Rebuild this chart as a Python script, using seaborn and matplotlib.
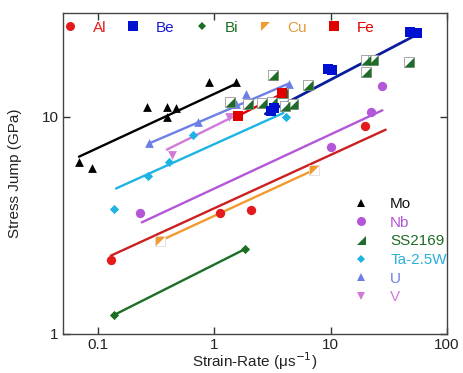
import matplotlib
matplotlib.use("Agg")
import matplotlib.pyplot as plt
import seaborn as sns
import pandas as pd
from matplotlib.lines import Line2D
from matplotlib.ticker import FixedLocator, FixedFormatter, NullLocator

# ---- data ----
al_x = [0.129, 1.13, 2.07, 19.8]
al_y = [2.19, 3.59, 3.72, 9.09]
al_fit_x = [0.129, 29.8]
al_fit_y = [2.29, 8.71]

be_x = [3.10, 3.29, 9.6, 10.2, 48, 55]
be_y = [10.66, 11.0, 16.6, 16.4, 24.6, 24.4]
be_fit_x = [2.75, 59.7]
be_fit_y = [10.3, 24.4]

bi_x = [0.137, 1.85]
bi_y = [1.22, 2.46]
bi_fit_x = [0.137, 1.85]
bi_fit_y = [1.22, 2.46]

cu_x = [0.342, 7.18]
cu_y = [2.68, 5.68]
cu_fit_x = [0.342, 7.18]
cu_fit_y = [2.68, 5.68]

fe_x = [1.61, 3.86]
fe_y = [10.1, 12.8]
fe_fit_x = [1.61, 4.0]
fe_fit_y = [10.1, 12.9]

mo_x = [0.0686, 0.0893, 0.266, 0.394, 0.394, 0.468, 0.893, 1.55]
mo_y = [6.16, 5.80, 11.04, 11.04, 10.0, 10.97, 14.4, 14.4]
mo_fit_x = [0.0686, 1.55]
mo_fit_y = [6.54, 14.2]

nb_x = [0.230, 10.1, 22.1, 27.9]
nb_y = [3.60, 7.22, 10.5, 13.9]
nb_fit_x = [0.238, 27.9]
nb_fit_y = [3.26, 10.7]

ss_x = [3.23, 1.37, 1.96, 2.59, 3.16, 4.09, 4.80, 3.93, 6.34, 20.0, 23.0, 20.0, 47.0]
ss_y = [15.5, 11.7, 11.4, 11.5, 11.7, 11.2, 11.4, 12.8, 14.0, 18.3, 18.3, 16.0, 17.9]

ta_x = [0.137, 0.268, 0.407, 0.655, 4.18]
ta_y = [3.75, 5.35, 6.20, 8.26, 9.93]
ta_fit_x = [0.143, 3.93]
ta_fit_y = [4.67, 10.4]

u_x = [0.275, 0.732, 1.55, 1.88, 4.37]
u_y = [7.53, 9.41, 11.4, 12.7, 14.2]
u_fit_x = [0.275, 4.37]
u_fit_y = [7.53, 14.2]

v_x = [0.432, 1.33]
v_y = [6.68, 9.93]
v_fit_x = [0.391, 1.42]
v_fit_y = [7.05, 9.93]

x_ticks = [0.1, 1, 10, 100]
x_tick_labels = ["0.1", "1", "10", "100"]
y_ticks = [1, 10]
y_tick_labels = ["1", "10"]

# ---- styling ----
sns.set_theme(style="white")
plt.rcParams["font.family"] = ["Liberation Sans", "DejaVu Sans"]

C = {
    "Al": "#e41a1c", "Al_line": "#cc1f1f",
    "Be": "#0010d0", "Be_line": "#0a1d9c",
    "Bi": "#1b6e23",
    "Cu": "#f39a2c",
    "Fe": "#e00000",
    "Mo": "#000000",
    "Nb": "#b456d8",
    "SS": "#1f6b28",
    "Ta": "#1db4e3",
    "U": "#6c7fe6",
    "V": "#d27ad8",
}

TRI_LR = [(1, -1), (1, 1), (-1, -1)]   # lower-right half of a square
TRI_UL = [(-1, 1), (1, 1), (-1, -1)]   # upper-left half of a square

fig = plt.figure(figsize=(4.63, 3.73), dpi=100)
ax = fig.add_axes([0.136, 0.105, 0.829, 0.86])


def fit(xs, ys, color, lw=1.7):
    sns.lineplot(x=xs, y=ys, ax=ax, color=color, lw=lw, legend=False,
                 sort=False, estimator=None)


def pts(xs, ys, color, marker, s, ec=None, lw=0.0):
    sns.scatterplot(x=xs, y=ys, ax=ax, color=color, marker=marker, s=s,
                    edgecolor=ec if ec else color, linewidth=lw, legend=False,
                    zorder=3)


# fit lines
fit(mo_fit_x, mo_fit_y, C["Mo"])
fit(u_fit_x, u_fit_y, C["U"])
fit(v_fit_x, v_fit_y, C["V"])
fit(ta_fit_x, ta_fit_y, C["Ta"])
fit(nb_fit_x, nb_fit_y, C["Nb"])
fit(al_fit_x, al_fit_y, C["Al_line"])
fit(cu_fit_x, cu_fit_y, C["Cu"])
fit(bi_fit_x, bi_fit_y, C["Bi"])
fit(fe_fit_x, fe_fit_y, C["Fe"])
fit(be_fit_x, be_fit_y, C["Be_line"], lw=2.0)

# points
pts(mo_x, mo_y, C["Mo"], "^", 40)
pts(u_x, u_y, C["U"], "^", 40)
pts(v_x, v_y, C["V"], "v", 40)
pts(ta_x, ta_y, C["Ta"], "D", 22)
pts(nb_x, nb_y, C["Nb"], "o", 45)
pts(al_x, al_y, C["Al"], "o", 45)
pts(bi_x, bi_y, C["Bi"], "D", 22)
# Cu: white square + orange upper-left half
pts(cu_x, cu_y, "white", "s", 45, ec="#dddddd", lw=0.6)
pts(cu_x, cu_y, C["Cu"], TRI_UL, 45)
# SS2169: white square (grey edge) + green lower-right half
pts(ss_x, ss_y, "white", "s", 50, ec="#9a9a9a", lw=0.6)
pts(ss_x, ss_y, C["SS"], TRI_LR, 50)
pts(fe_x, fe_y, C["Fe"], "s", 50)
pts(be_x, be_y, C["Be"], "s", 55)

# axes
ax.set_xscale("log")
ax.set_yscale("log")
ax.set_xlim(0.05, 100)
ax.set_ylim(1, 30)
ax.xaxis.set_major_locator(FixedLocator(x_ticks))
ax.xaxis.set_major_formatter(FixedFormatter(x_tick_labels))
ax.yaxis.set_major_locator(FixedLocator(y_ticks))
ax.yaxis.set_major_formatter(FixedFormatter(y_tick_labels))
ax.xaxis.set_minor_locator(NullLocator())
ax.yaxis.set_minor_locator(NullLocator())
ax.tick_params(which="major", direction="in", length=5, width=1,
               top=True, right=True, bottom=True, left=True,
               labelsize=11, colors="#333333", labelcolor="#222222", pad=3)
for sp in ax.spines.values():
    sp.set_color("#444444")
    sp.set_linewidth(1.0)

ax.set_xlabel("Strain-Rate (\u03bcs$^{-1}$)", fontsize=11, color="#222222", labelpad=-1)
ax.set_ylabel("Stress Jump (GPa)", fontsize=11, color="#222222", labelpad=14)

# legends
def h(color, marker, ms, mec=None, mew=0.0):
    return Line2D([], [], ls="none", marker=marker, color=color, ms=ms,
                  mec=mec if mec else color, mew=mew)

top_handles = [h(C["Al"], "o", 6.5), h(C["Be"], "s", 6.5), h(C["Bi"], "D", 4.5),
               h(C["Cu"], TRI_UL, 6.5), h(C["Fe"], "s", 6.5)]
top_labels = ["Al", "Be", "Bi", "Cu", "Fe"]
leg1 = ax.legend(top_handles, top_labels, ncol=5, loc="upper left",
                 bbox_to_anchor=(-0.025, 1.01), frameon=False, fontsize=11,
                 handlelength=0.8, handletextpad=1.1, columnspacing=1.35,
                 labelcolor=[C["Al"], "#1a1ad0", C["Bi"], "#e39a40", C["Fe"]],
                 borderaxespad=0.3)
ax.add_artist(leg1)

right_handles = [h(C["Mo"], "^", 6), h(C["Nb"], "o", 6.5), h(C["SS"], TRI_LR, 6.5),
                 h(C["Ta"], "D", 4.5), h(C["U"], "^", 6), h(C["V"], "v", 6)]
right_labels = ["Mo", "Nb", "SS2169", "Ta-2.5W", "U", "V"]
leg2 = ax.legend(right_handles, right_labels, loc="upper left",
                 bbox_to_anchor=(0.745, 0.445), frameon=False, fontsize=11,
                 handlelength=0.8, handletextpad=1.5, labelspacing=0.3,
                 labelcolor=["#111111", C["Nb"], C["SS"], "#2bb0d8", C["U"], C["V"]],
                 borderaxespad=0.0)

fig.savefig("out.png", dpi=100)
